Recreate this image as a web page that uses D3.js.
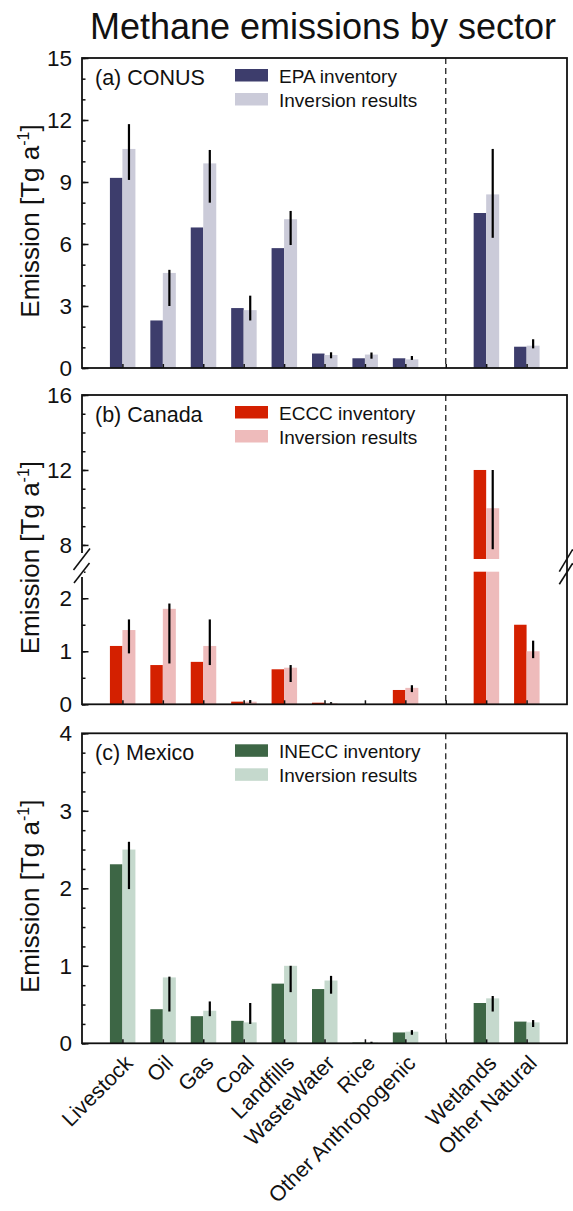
<!DOCTYPE html>
<html>
<head>
<meta charset="utf-8">
<script src="https://d3js.org/d3.v7.min.js"></script>
<style>
  body { margin: 0; background: #fff; }
  svg text { font-family: Arial, "Liberation Sans", sans-serif; fill: #111; }
</style>
</head>
<body>
<script>
// sectors, in drawing order (a blank slot separates anthropogenic from natural)
var anthroSectors = ["Livestock", "Oil", "Gas", "Coal", "Landfills", "WasteWater", "Rice", "Other Anthropogenic"];
var naturalSectors = ["Wetlands", "Other Natural"];
var categories = anthroSectors.concat(naturalSectors);

// (a) CONUS, Tg/a
var conusInventory = [9.2, 2.3, 6.8, 2.9, 5.8, 0.7, 0.47, 0.47, 7.5, 1.03];
var conusInversion = [10.6, 4.6, 9.9, 2.8, 7.2, 0.63, 0.65, 0.42, 8.4, 1.08];
var conusErrLow = [9.1, 3.0, 8.0, 2.3, 5.95, 0.47, 0.45, 0.39, 6.3, 0.95];
var conusErrHigh = [11.8, 4.75, 10.55, 3.5, 7.6, 0.76, 0.75, 0.58, 10.6, 1.39];

// (b) Canada
var canadaInventory = [1.1, 0.74, 0.8, 0.05, 0.66, 0.03, 0, 0.27, 12.0, 1.5];
var canadaInversion = [1.4, 1.8, 1.1, 0.05, 0.69, 0.02, 0, 0.31, 9.96, 1.0];
var canadaErrLow = [0.96, 0.77, 0.74, 0.02, 0.42, 0.01, 0, 0.23, 7.77, 0.87];
var canadaErrHigh = [1.6, 1.9, 1.6, 0.08, 0.74, 0.04, 0, 0.36, 12.0, 1.2];

// (c) Mexico
var mexicoInventory = [2.31, 0.44, 0.35, 0.29, 0.77, 0.70, 0.01, 0.14, 0.52, 0.28];
var mexicoInversion = [2.5, 0.85, 0.42, 0.27, 1.0, 0.81, 0.01, 0.15, 0.58, 0.27];
var mexicoErrLow = [1.99, 0.41, 0.35, 0.25, 0.66, 0.64, 0.0, 0.11, 0.41, 0.21];
var mexicoErrHigh = [2.6, 0.86, 0.54, 0.52, 1.0, 0.87, 0.02, 0.17, 0.61, 0.30];

var conusTicks = [0, 3, 6, 9, 12, 15];
var canadaLowTicks = [0, 1, 2];
var canadaHighTicks = [8, 12, 16];
var mexicoTicks = [0, 1, 2, 3, 4];

var width = 573, height = 1211;
var left = 82, right = 567;
var font = "Arial, 'Liberation Sans', sans-serif";

var svg = d3.select("body").append("svg")
  .attr("width", width)
  .attr("height", height);

svg.append("text")
  .attr("x", 323).attr("y", 39)
  .attr("text-anchor", "middle")
  .attr("font-size", 36)
  .text("Methane emissions by sector");

var x = d3.scalePoint()
  .domain(anthroSectors.concat(["divider"], naturalSectors))
  .range([left, right])
  .padding(1);

var barW = 12.5;

function yLabel(cy) {
  var t = svg.append("text")
    .attr("transform", "translate(39," + cy + ") rotate(-90)")
    .attr("text-anchor", "middle")
    .attr("font-size", 26);
  t.append("tspan").text("Emission [Tg a");
  t.append("tspan").attr("font-size", 16).attr("dy", -10).text("-1");
  t.append("tspan").attr("dy", 10).text("]");
}

function leftAxis(g, scale, ticks, minorTicks) {
  g.append("g")
    .attr("transform", "translate(" + left + ",0)")
    .call(d3.axisLeft(scale).tickValues(minorTicks).tickSize(-3.5).tickFormat(""))
    .call(function(a) { a.select(".domain").remove(); a.selectAll("line").attr("stroke", "#111").attr("stroke-width", 1.5); });
  g.append("g")
    .attr("transform", "translate(" + left + ",0)")
    .call(d3.axisLeft(scale).tickValues(ticks).tickSize(-6.5).tickPadding(10).tickFormat(d3.format("d")))
    .call(function(a) {
      a.select(".domain").remove();
      a.selectAll("line").attr("stroke", "#111").attr("stroke-width", 1.5);
      a.selectAll("text").attr("font-size", 22.5).attr("font-family", font).attr("fill", "#111");
    });
}

function drawPanel(p) {
  var g = svg.append("g");

  // bars and error bars
  categories.forEach(function(c, i) {
    var cx = x(c);
    p.bar(g, cx - barW, barW, p.inventory[i], p.dark);
    p.bar(g, cx, barW + 0.5, p.inversion[i], p.light);
    if (p.errHigh[i] > p.errLow[i]) {
      g.append("line")
        .attr("x1", cx + barW / 2 + 0.3).attr("x2", cx + barW / 2 + 0.3)
        .attr("y1", p.y(p.errLow[i])).attr("y2", p.y(p.errHigh[i]))
        .attr("stroke", "#000").attr("stroke-width", 2.2);
    }
  });

  // divider
  g.append("line")
    .attr("x1", x("divider")).attr("x2", x("divider"))
    .attr("y1", p.top).attr("y2", p.bottom)
    .attr("stroke", "#222").attr("stroke-width", 1.3)
    .attr("stroke-dasharray", "6,4");

  // bottom ticks
  g.append("g")
    .attr("transform", "translate(0," + p.bottom + ")")
    .call(d3.axisBottom(x).tickSize(-4).tickFormat(p.showX ? null : ""))
    .call(function(a) {
      a.select(".domain").remove();
      a.selectAll("line").attr("stroke", "#111").attr("stroke-width", 1.5);
      a.selectAll(".tick").filter(function(d) { return d === "divider"; }).select("text").remove();
      a.selectAll("text")
        .attr("font-size", 21.5)
        .attr("font-family", font)
        .attr("fill", "#111")
        .attr("text-anchor", "end")
        .attr("dy", 0)
        .attr("transform", "translate(9,19) rotate(-45)");
    });

  p.axes(g);

  // frame
  g.append("rect")
    .attr("x", left).attr("y", p.top)
    .attr("width", right - left).attr("height", p.bottom - p.top)
    .attr("fill", "none").attr("stroke", "#111").attr("stroke-width", 1.8);

  if (p.after) p.after(g);

  // panel label and legend
  g.append("text").attr("x", 95).attr("y", p.top + 26.5).attr("font-size", 21.5).text(p.label);
  var names = [p.invName, "Inversion results"];
  var cols = [p.dark, p.light];
  names.forEach(function(n, k) {
    g.append("rect")
      .attr("x", 235).attr("y", p.top + 11 + k * 24)
      .attr("width", 33).attr("height", 12.5)
      .attr("fill", cols[k]);
    g.append("text")
      .attr("x", 279).attr("y", p.top + 25 + k * 23.5)
      .attr("font-size", 19)
      .text(n);
  });

  yLabel((p.top + p.bottom) / 2 + 8);
}

function simpleBar(y) {
  return function(g, bx, w, v, col) {
    if (v <= 0) return;
    g.append("rect")
      .attr("x", bx).attr("width", w)
      .attr("y", y(v)).attr("height", y(0) - y(v))
      .attr("fill", col);
  };
}

// (a) CONUS
var yA = d3.scaleLinear().domain([0, 15]).range([368, 58]);
drawPanel({
  top: 58, bottom: 368, y: yA, bar: simpleBar(yA),
  inventory: conusInventory, inversion: conusInversion,
  errLow: conusErrLow, errHigh: conusErrHigh,
  dark: "#3d3d6c", light: "#cbcbd9",
  label: "(a) CONUS", invName: "EPA inventory",
  axes: function(g) { leftAxis(g, yA, conusTicks, d3.range(0, 16, 1)); }
});

// (b) Canada, broken axis
var yLow = d3.scaleLinear().domain([0, 2.5]).range([704.3, 571.7]);
var yHigh = d3.scaleLinear().domain([7.25, 16]).range([559, 395]);
function yB(v) { return v <= 2.5 ? yLow(v) : yHigh(v); }
drawPanel({
  top: 395, bottom: 704.3, y: yB,
  bar: function(g, bx, w, v, col) {
    if (v <= 0) return;
    var lv = Math.min(v, 2.5);
    g.append("rect").attr("x", bx).attr("width", w)
      .attr("y", yLow(lv)).attr("height", yLow(0) - yLow(lv)).attr("fill", col);
    if (v > 7.25) {
      g.append("rect").attr("x", bx).attr("width", w)
        .attr("y", yHigh(v)).attr("height", yHigh(7.25) - yHigh(v)).attr("fill", col);
    }
  },
  inventory: canadaInventory, inversion: canadaInversion,
  errLow: canadaErrLow, errHigh: canadaErrHigh,
  dark: "#d42000", light: "#eebbbb",
  label: "(b) Canada", invName: "ECCC inventory",
  axes: function(g) {
    leftAxis(g, yLow, canadaLowTicks, d3.range(0, 2.51, 0.5));
    leftAxis(g, yHigh, canadaHighTicks, d3.range(8, 16.1, 1));
  },
  after: function(g) {
    g.append("rect").attr("x", left - 2).attr("y", 553).attr("width", 4).attr("height", 24).attr("fill", "#fff");
    [[73.5, 570, 90, 548.5], [74, 583, 89.5, 563], [559.3, 571.7, 572.7, 549.3], [559.3, 584.3, 572.7, 563.3]].forEach(function(s) {
      g.append("line")
        .attr("x1", s[0]).attr("y1", s[1]).attr("x2", s[2]).attr("y2", s[3])
        .attr("stroke", "#111").attr("stroke-width", 1.6);
    });
  }
});

// (c) Mexico
var yC = d3.scaleLinear().domain([0, 4]).range([1043.3, 733.3]);
drawPanel({
  top: 733.3, bottom: 1043.3, y: yC, bar: simpleBar(yC),
  inventory: mexicoInventory, inversion: mexicoInversion,
  errLow: mexicoErrLow, errHigh: mexicoErrHigh,
  dark: "#3d6645", light: "#c5d9cd",
  label: "(c) Mexico", invName: "INECC inventory", showX: true,
  axes: function(g) { leftAxis(g, yC, mexicoTicks, d3.range(0, 4.01, 0.25)); }
});
</script>
</body>
</html>
